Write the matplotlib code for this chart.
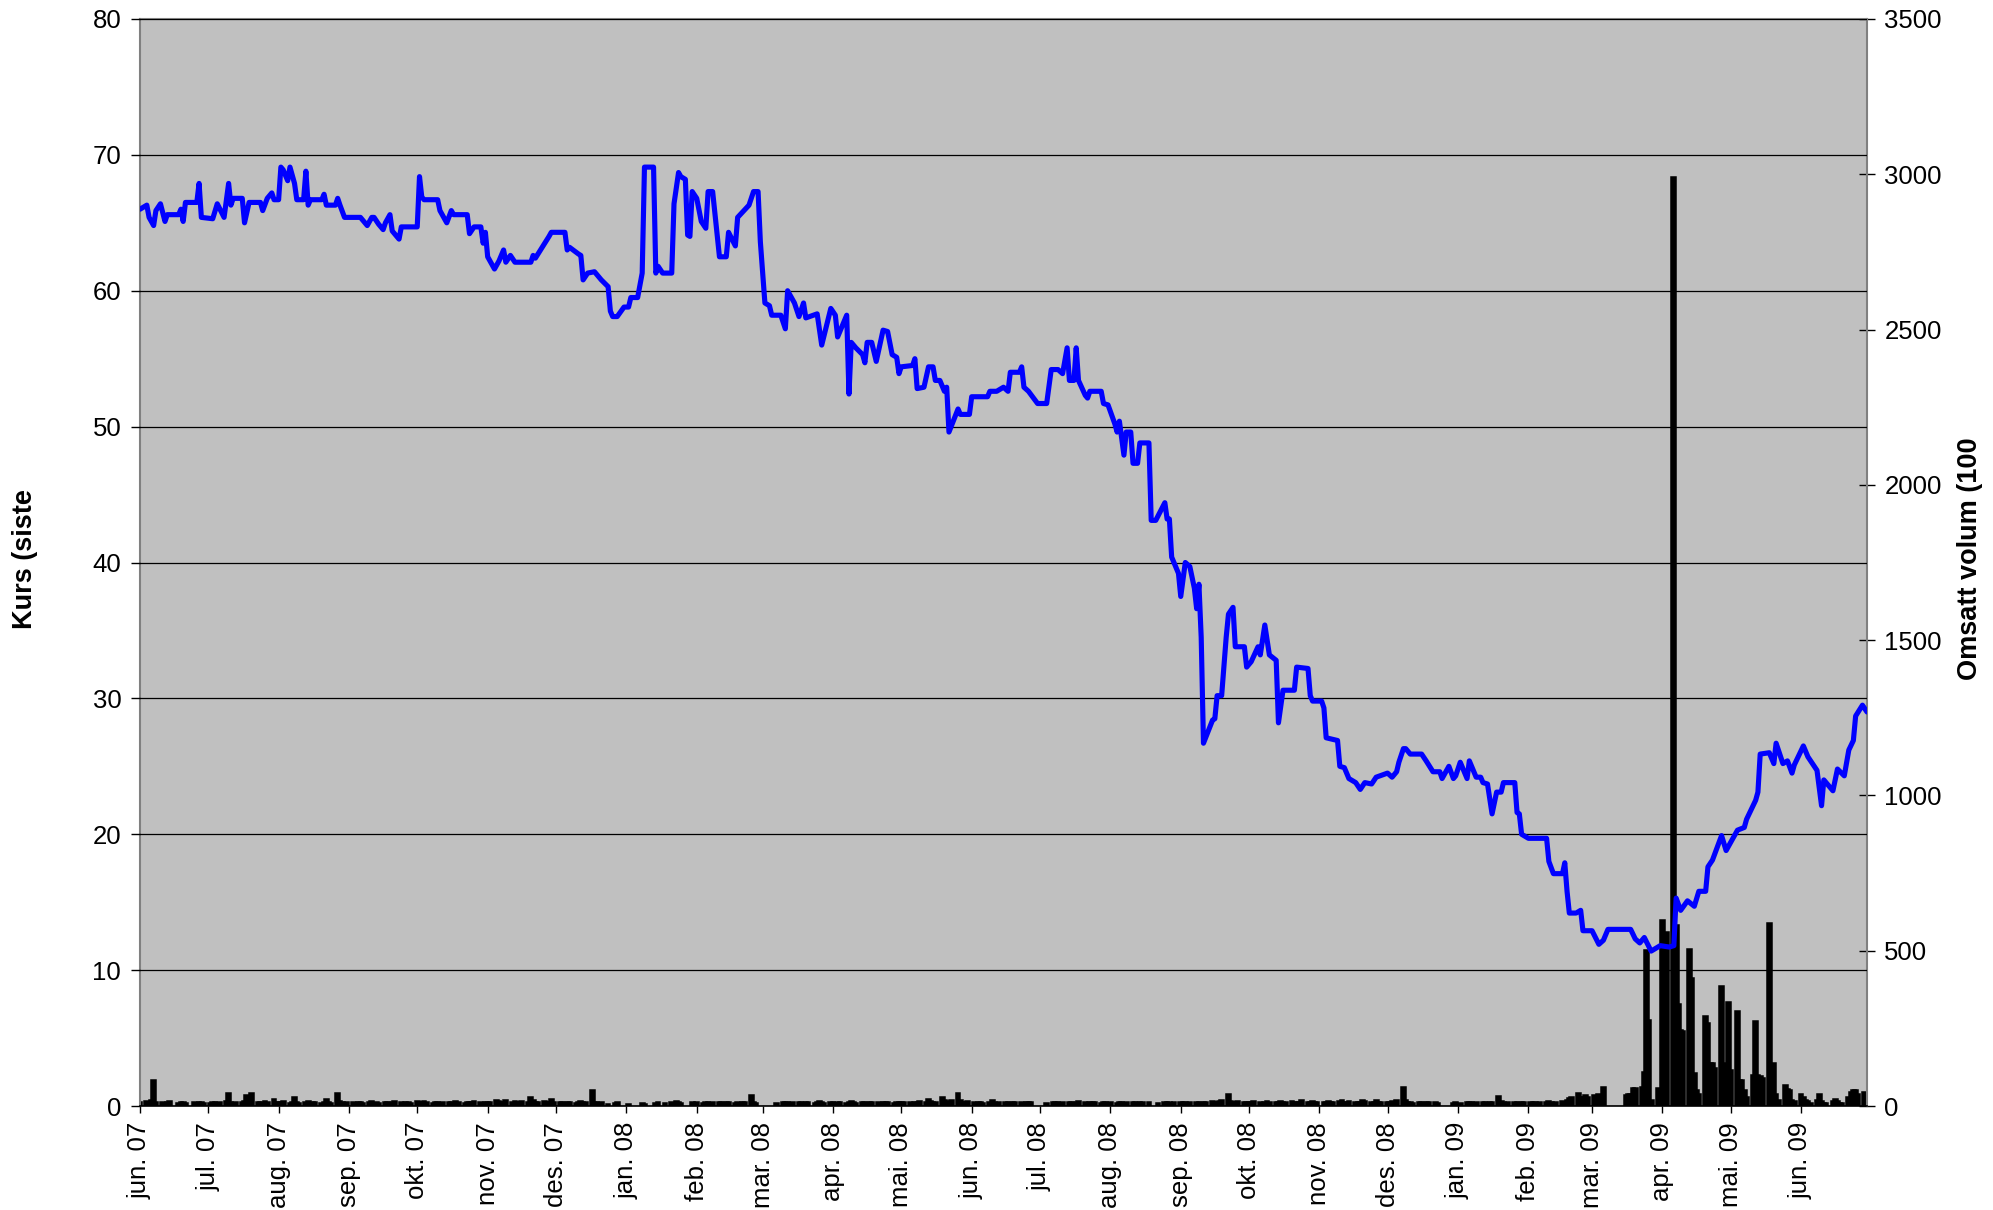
import matplotlib
matplotlib.use("Agg")
import matplotlib.pyplot as plt
import pandas as pd

plt.rcParams['font.family'] = ['Liberation Sans', 'DejaVu Sans']

start_date = pd.Timestamp('2007-06-01')
end_date = pd.Timestamp('2009-06-30')

# ---- price (days since 1 Jun 2007, closing price) ----
price_day = [
    0, 3, 4, 6, 7, 9, 11, 12, 17, 18,
    19, 20, 25, 26, 27, 32, 34, 37, 39, 40,
    41, 45, 46, 48, 53, 54, 56, 58, 59, 61,
    62, 63, 65, 66, 68, 69, 72, 73, 74, 75,
    80, 81, 82, 86, 87, 88, 90, 97, 100, 102,
    103, 105, 107, 108, 110, 111, 114, 115, 122, 123,
    124, 125, 131, 132, 135, 137, 138, 144, 145, 147,
    150, 151, 152, 153, 156, 158, 160, 161, 163, 165,
    172, 173, 174, 180, 181, 187, 188, 189, 193, 194,
    195, 197, 200, 203, 206, 207, 208, 210, 213, 215,
    216, 219, 221, 222, 226, 227, 228, 230, 234, 235,
    237, 238, 240, 241, 242, 243, 245, 247, 249, 250,
    252, 255, 258, 259, 262, 263, 268, 270, 272, 273,
    275, 277, 278, 282, 284, 285, 288, 290, 292, 293,
    298, 300, 304, 306, 307, 311, 312, 313, 315, 318,
    319, 320, 322, 324, 327, 329, 331, 333, 334, 335,
    340, 341, 342, 345, 347, 349, 350, 352, 354, 355,
    356, 360, 361, 365, 366, 373, 374, 377, 380, 382,
    383, 387, 388, 389, 391, 395, 399, 401, 404, 406,
    408, 409, 411, 412, 413, 416, 417, 418, 423, 424,
    426, 429, 430, 431, 433, 434, 436, 437, 439, 440,
    444, 445, 447, 451, 452, 453, 454, 457, 458, 460,
    462, 464, 465, 466, 467, 468, 472, 473, 474, 476,
    478, 479, 481, 482, 486, 487, 489, 492, 493, 495,
    497, 500, 501, 503, 508, 509, 514, 515, 516, 520,
    521, 522, 527, 528, 530, 532, 535, 537, 539, 542,
    544, 549, 551, 553, 554, 556, 557, 559, 564, 566,
    569, 572, 573, 576, 578, 579, 581, 584, 585, 588,
    590, 591, 593, 595, 597, 599, 600, 605, 606, 607,
    608, 611, 619, 620, 622, 626, 627, 628, 629, 632,
    634, 635, 639, 642, 644, 646, 656, 658, 660, 662,
    665, 669, 673, 675, 676, 678, 681, 684, 686, 689,
    690, 692, 696, 698, 701, 703, 706, 707, 709, 711,
    712, 713, 717, 719, 720, 723, 725, 727, 728, 732,
    734, 738, 740, 741, 745, 747, 750, 752, 754, 755,
    758, 760,
]
price_value = [
    66.0, 66.3, 65.4, 64.8, 65.9, 66.4, 65.1, 65.6, 65.6, 66.0,
    65.1, 66.5, 66.5, 67.9, 65.4, 65.3, 66.4, 65.4, 67.9, 66.3,
    66.8, 66.8, 65.0, 66.5, 66.5, 65.9, 66.8, 67.2, 66.7, 66.7,
    69.1, 68.9, 68.1, 69.1, 67.9, 66.7, 66.7, 68.8, 66.3, 66.7,
    66.7, 67.1, 66.3, 66.3, 66.8, 66.3, 65.4, 65.4, 64.8, 65.4,
    65.4, 64.9, 64.5, 65.0, 65.6, 64.4, 63.8, 64.7, 64.7, 68.4,
    66.9, 66.7, 66.7, 65.9, 65.0, 65.9, 65.6, 65.6, 64.2, 64.7,
    64.7, 63.5, 64.3, 62.5, 61.6, 62.2, 63.0, 62.1, 62.6, 62.1,
    62.1, 62.6, 62.4, 64.0, 64.3, 64.3, 63.0, 63.2, 62.7, 62.6,
    60.8, 61.3, 61.4, 60.8, 60.3, 58.5, 58.1, 58.1, 58.8, 58.8,
    59.5, 59.5, 61.3, 69.1, 69.1, 61.3, 61.8, 61.3, 61.3, 66.4,
    68.7, 68.4, 68.2, 64.1, 64.0, 67.3, 66.8, 65.1, 64.6, 67.3,
    67.3, 62.5, 62.5, 64.3, 63.3, 65.4, 66.3, 67.3, 67.3, 63.6,
    59.1, 58.9, 58.2, 58.2, 57.2, 60.0, 59.1, 58.1, 59.1, 58.0,
    58.3, 56.0, 58.7, 58.2, 56.6, 58.2, 52.4, 56.2, 55.8, 55.3,
    54.7, 56.2, 56.2, 54.8, 57.1, 57.0, 55.3, 55.1, 53.9, 54.4,
    54.5, 55.0, 52.8, 52.9, 54.4, 54.4, 53.4, 53.4, 52.6, 52.9,
    49.6, 51.3, 50.9, 50.9, 52.2, 52.2, 52.6, 52.6, 52.9, 52.6,
    54.0, 54.0, 54.4, 52.9, 52.6, 51.7, 51.7, 54.2, 54.2, 53.9,
    55.8, 53.4, 53.4, 55.8, 53.4, 52.3, 52.1, 52.6, 52.6, 51.7,
    51.6, 50.2, 49.6, 50.4, 47.9, 49.6, 49.6, 47.3, 47.3, 48.8,
    48.8, 43.1, 43.1, 44.4, 43.2, 43.2, 40.4, 39.2, 37.5, 40.0,
    39.7, 38.1, 36.6, 38.4, 34.5, 26.7, 28.4, 28.5, 30.2, 30.2,
    34.5, 36.2, 36.7, 33.8, 33.8, 32.3, 32.7, 33.8, 33.2, 35.4,
    33.2, 32.8, 28.2, 30.6, 30.6, 32.3, 32.2, 30.2, 29.8, 29.8,
    29.3, 27.1, 26.9, 25.0, 24.9, 24.1, 23.8, 23.3, 23.8, 23.7,
    24.2, 24.5, 24.2, 24.6, 25.3, 26.3, 26.3, 25.9, 25.9, 25.4,
    24.6, 24.6, 24.1, 25.0, 24.1, 24.3, 25.3, 24.1, 25.4, 24.2,
    24.2, 23.8, 23.7, 21.5, 23.1, 23.1, 23.8, 23.8, 21.6, 21.5,
    20.0, 19.7, 19.7, 18.0, 17.1, 17.1, 17.9, 15.8, 14.2, 14.2,
    14.4, 12.9, 12.9, 11.9, 12.2, 13.0, 13.0, 12.3, 12.0, 12.4,
    11.4, 11.8, 11.7, 11.8, 15.3, 14.4, 15.1, 14.7, 15.8, 15.8,
    17.6, 18.1, 19.9, 18.8, 19.7, 20.3, 20.5, 21.1, 21.8, 22.5,
    23.1, 25.9, 26.0, 25.2, 26.7, 25.2, 25.4, 24.5, 25.1, 26.5,
    25.7, 24.7, 22.1, 24.0, 23.2, 24.8, 24.3, 26.2, 26.9, 28.7,
    29.5, 29.0,
]

# ---- traded volume (1000), one list per month, one value per weekday ----
vol_2007 = [
    [12, 15, 10, 18, 84, 14, 12, 10, 12, 15, 0, 10, 12, 14, 10, 0, 12, 10, 14, 12, 10],            # jun
    [10, 12, 14, 10, 12, 15, 41, 12, 10, 14, 12, 16, 35, 18, 41, 14, 12, 10, 15, 12, 21, 14],       # jul
    [14, 12, 15, 10, 12, 28, 14, 10, 12, 15, 10, 12, 14, 10, 12, 21, 14, 10, 41, 15, 12, 10, 12],   # aug
    [12, 10, 14, 12, 10, 12, 15, 10, 12, 10, 14, 12, 10, 12, 15, 12, 10, 14, 12, 10],               # sep
    [16, 14, 12, 15, 12, 10, 14, 12, 10, 12, 14, 12, 10, 15, 12, 10, 12, 14, 12, 15, 12, 10, 14],   # okt
    [14, 12, 19, 15, 12, 14, 18, 12, 15, 14, 12, 16, 14, 28, 18, 14, 12, 15, 14, 12, 22, 14],       # nov
    [12, 14, 10, 12, 14, 10, 12, 15, 12, 14, 53, 14, 12, 10, 12, 8, 0, 0, 10, 12, 0],              # des
]
vol_2008 = [
    [0, 8, 0, 0, 0, 10, 8, 0, 0, 10, 12, 0, 0, 10, 12, 0, 15, 12, 10, 0, 0, 12, 10],               # jan
    [12, 10, 12, 14, 10, 12, 14, 12, 10, 12, 14, 10, 12, 10, 12, 14, 35, 12, 10, 0, 0],            # feb
    [0, 0, 0, 0, 10, 12, 14, 12, 10, 12, 14, 12, 10, 12, 14, 10, 12, 15, 12, 10, 12],              # mar
    [12, 10, 14, 12, 10, 12, 15, 12, 10, 14, 12, 10, 12, 14, 12, 10, 12, 14, 12, 10, 12, 14],       # apr
    [12, 14, 12, 10, 14, 12, 15, 14, 21, 16, 14, 12, 28, 18, 14, 16, 20, 43, 18, 14, 12, 15],       # mai
    [12, 10, 12, 14, 10, 12, 18, 12, 10, 12, 14, 12, 10, 12, 14, 12, 10, 12, 14, 12, 0],            # jun
    [0, 0, 0, 10, 12, 14, 12, 10, 12, 14, 12, 10, 12, 15, 12, 10, 12, 14, 12, 10, 14, 12, 10],      # jul
    [12, 10, 14, 12, 10, 12, 14, 12, 10, 12, 14, 12, 0, 0, 0, 10, 12, 14, 12, 10, 12],              # aug
    [12, 14, 12, 10, 12, 14, 12, 10, 14, 12, 15, 12, 14, 16, 18, 38, 16, 14, 12, 15, 12, 14],       # sep
    [14, 12, 15, 12, 10, 14, 16, 12, 14, 12, 15, 14, 12, 16, 14, 12, 14, 18, 14, 12, 16, 14, 12],   # okt
    [14, 12, 16, 14, 12, 15, 18, 14, 12, 16, 14, 12, 14, 20, 16, 14, 12, 18, 14, 12],               # nov
    [14, 12, 16, 14, 18, 60, 20, 14, 12, 10, 14, 12, 10, 12, 14, 12, 10, 0, 0, 0, 0, 10, 12],       # des
]
vol_2009 = [
    [0, 10, 12, 14, 12, 10, 12, 14, 12, 10, 12, 14, 32, 16, 12, 10, 12, 14, 12, 10, 12, 14],        # jan
    [12, 14, 12, 10, 14, 12, 15, 12, 10, 14, 16, 14, 18, 25, 30, 43, 30, 28, 35, 30],               # feb
    [35, 25, 40, 30, 60, 0, 0, 0, 0, 0, 35, 40, 40, 59, 59, 60, 111, 502, 277, 20, 59, 50],          # mar
    [598, 0, 560, 2990, 582, 330, 244, 240, 504, 411, 105, 50, 40, 290, 266, 138, 140, 121,
     385, 140, 120, 336],                                                                           # apr
    [116, 307, 84, 84, 50, 30, 100, 274, 100, 96, 90, 589, 96, 138, 40, 20, 69, 55, 50, 20, 15],     # mai
    [40, 30, 20, 15, 10, 20, 40, 15, 10, 10, 15, 21, 15, 10, 10, 30, 45, 53, 50, 40, 45, 37],       # jun
]

tick_labels = ['jun. 07', 'jul. 07', 'aug. 07', 'sep. 07', 'okt. 07', 'nov. 07', 'des. 07',
               'jan. 08', 'feb. 08', 'mar. 08', 'apr. 08', 'mai. 08', 'jun. 08', 'jul. 08',
               'aug. 08', 'sep. 08', 'okt. 08', 'nov. 08', 'des. 08', 'jan. 09', 'feb. 09',
               'mar. 09', 'apr. 09', 'mai. 09', 'jun. 09']

left_label = 'Kurs (siste'
right_label = 'Omsatt volum (100'

# ---- build series ----
price_dates = start_date + pd.to_timedelta(price_day, unit='D')

months = pd.period_range('2007-06', '2009-06', freq='M')
vol_dates, vol_values = [], []
for per, vals in zip(months, vol_2007 + vol_2008 + vol_2009):
    bdays = pd.bdate_range(per.start_time, per.end_time.normalize())
    for d, v in zip(bdays, vals):
        if v > 0:
            vol_dates.append(d)
            vol_values.append(v)

# ---- figure ----
W, H = 1993, 1210
fig = plt.figure(figsize=(W / 100, H / 100), dpi=100)
ax_vol = fig.add_axes([140 / W, (H - 1106) / H, 1727 / W, 1087 / H])
ax_vol.set_facecolor('#C0C0C0')
ax_price = ax_vol.twinx()
ax_vol.yaxis.tick_right()
ax_price.yaxis.tick_left()

ax_vol.bar(vol_dates, vol_values, width=2.1, color='black', edgecolor='black',
           linewidth=1.1, align='center', zorder=2)
ax_vol.set_ylim(0, 3500)
ax_vol.set_yticks(range(0, 3501, 500))

ax_price.plot(price_dates, price_value, color='#0000FF', lw=3.7,
              solid_joinstyle='round', solid_capstyle='round', zorder=3)
ax_price.set_ylim(0, 80)
ax_price.set_yticks(range(0, 81, 10))
ax_price.set_axisbelow(True)
ax_price.yaxis.grid(True, color='black', linewidth=0.9)

ax_vol.set_xlim(start_date, end_date)
month_ticks = pd.date_range('2007-06-01', '2009-06-01', freq='MS')
ax_vol.set_xticks(month_ticks)
ax_vol.set_xticklabels(tick_labels, rotation=90, fontsize=18.5)
ax_price.tick_params(axis='x', which='both', bottom=False, top=False,
                     labelbottom=False, labeltop=False)

ax_price.tick_params(axis='y', direction='out', length=6.5, width=1, pad=7, labelsize=18.5)
ax_vol.tick_params(axis='y', direction='inout', length=11, width=1, pad=7, labelsize=18.5,
                   right=True, left=False)
ax_vol.tick_params(axis='x', direction='out', length=5, width=1, pad=6.5)

for sp in ax_price.spines.values():
    sp.set_visible(False)
for name in ['left', 'right', 'top']:
    ax_vol.spines[name].set_color('#808080')
    ax_vol.spines[name].set_linewidth(1.5)
ax_vol.spines['bottom'].set_color('black')
ax_vol.spines['bottom'].set_linewidth(1.2)

fig.text(25 / W, (H - 559) / H, left_label, rotation=90, fontsize=19.5, fontweight='bold',
         ha='center', va='center')
fig.text(1970 / W, (H - 559) / H, right_label, rotation=90, fontsize=19.5, fontweight='bold',
         ha='center', va='center')

fig.savefig('out.png', dpi=100)
